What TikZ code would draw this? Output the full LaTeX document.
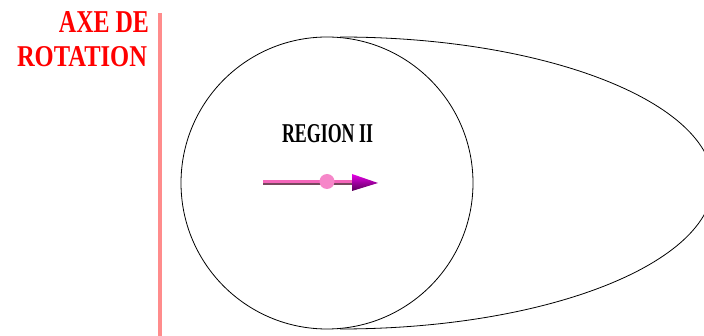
\documentclass[tikz,border=0pt]{standalone}
\usepackage{fontspec}
\setmainfont{Liberation Serif}
\usetikzlibrary{positioning}

\begin{document}
\begin{tikzpicture}[
    x=1pt, y=-1pt,
    every node/.style={inner sep=0pt, outer sep=0pt},
    axislabel/.style={text=red, anchor=north east, font=\bfseries},
    regionlabel/.style={text=black, anchor=north west, font=\bfseries},
    outline/.style={draw=black, line width=0.8pt},
    axisline/.style={draw=red!45, line width=4pt},
    shaftpink/.style={draw=magenta!60, line width=3pt},
    shaftdark/.style={draw=magenta!40!black, line width=2pt}
]
\useasboundingbox (0,0) rectangle (704,336);
\clip (0,0) rectangle (704,336);

% axe de rotation
\coordinate (axistop) at (160,13);
\coordinate (axisbottom) at (160,336);
\draw[axisline] (axistop) -- (axisbottom);
\node[axislabel] (axe) at (149,12) {\resizebox{90pt}{21pt}{AXE DE}};
\node[axislabel] (rotation) at (147,47) {\resizebox{130pt}{20pt}{ROTATION}};

% volume balaye
\draw[outline] (340,37) arc[start angle=-90, end angle=90, x radius=373, y radius=146];
\node[circle, outline, minimum size=292pt] (region) at (327,183) {};
\node[regionlabel] (regionname) at (282,125) {\resizebox{91pt}{18pt}{REGION II}};

% vecteur
\coordinate (tail) at (263,183);
\coordinate (base) at (352,183);
\coordinate (tip) at (378,183);
\draw[shaftdark] ([yshift=-1.5pt]tail) -- ([yshift=-1.5pt]base);
\draw[shaftpink] ([yshift=1pt]tail) -- ([yshift=1pt]base);
\shade[top color=magenta!90!black, bottom color=magenta!35!black]
    ([yshift=9pt]base) -- (tip) -- ([yshift=-8pt]base) -- cycle;
\node[circle, fill=magenta!47, minimum size=15pt] (dot) at (327,181.5) {};
\end{tikzpicture}
\end{document}
